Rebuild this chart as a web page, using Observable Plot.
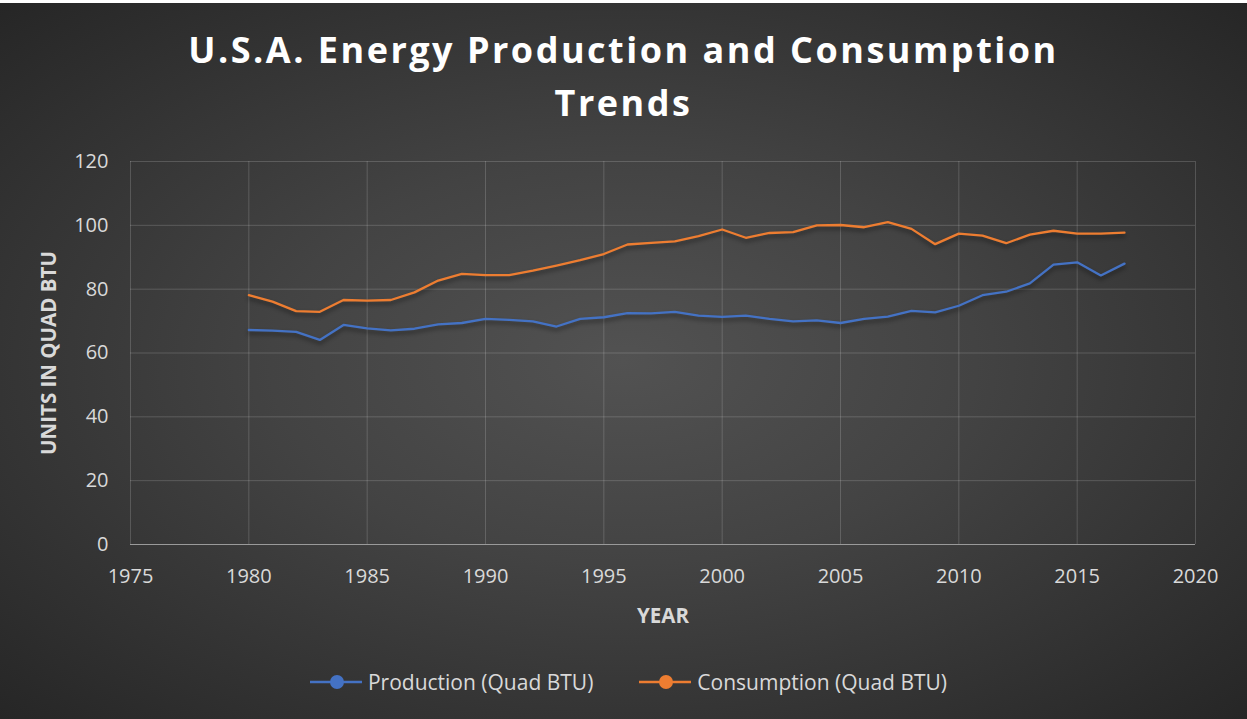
<!DOCTYPE html>
<html>
<head>
<meta charset="utf-8">
<script src="https://cdn.jsdelivr.net/npm/d3@7"></script>
<script src="https://cdn.jsdelivr.net/npm/@observablehq/plot@0.6"></script>
<style>
  html, body { margin: 0; padding: 0; background: #2a2a2a; }
  #frame {
    position: relative; width: 1247px; height: 719px; overflow: hidden; box-sizing: border-box;
    border-top: 3px solid #ffffff;
    background: radial-gradient(ellipse at 50% 50%, #525252 0%, #434343 40%, #262626 100%);
    font-family: "Open Sans", sans-serif;
  }
  #title {
    position: absolute; left: 0; top: 20px; width: 1247px; text-align: center;
    color: #ffffff; font-weight: 700; font-size: 36px; line-height: 53px; letter-spacing: 2.5px;
  }
  #chart { position: absolute; left: 0; top: 134px; }
  #chart svg g[aria-label="x-axis label"] text,
  #chart svg g[aria-label="y-axis label"] text { font-weight: 700; font-size: 20.5px; }
  #chart svg g[aria-label="line"] { filter: drop-shadow(0px 3px 2px rgba(0,0,0,0.45)); }
  #legend {
    position: absolute; left: 0; top: 664px; width: 1247px; height: 30px;
    display: flex; justify-content: center; align-items: center; gap: 46px;
    color: #d9d9d9; font-size: 21px; padding-left: 10px; box-sizing: border-box;
  }
  .item { display: flex; align-items: center; gap: 6px; }
</style>
</head>
<body>
<div id="frame">
  <div id="title">U.S.A. Energy Production and Consumption<br>Trends</div>
  <div id="chart"></div>
  <div id="legend"></div>
</div>
<script>
const years = [1980,1981,1982,1983,1984,1985,1986,1987,1988,1989,1990,1991,1992,1993,1994,1995,1996,1997,1998,1999,2000,2001,2002,2003,2004,2005,2006,2007,2008,2009,2010,2011,2012,2013,2014,2015,2016,2017];
const production = [67.2,67.0,66.6,64.1,68.8,67.7,67.1,67.6,69.0,69.4,70.7,70.4,69.9,68.3,70.7,71.2,72.5,72.4,72.9,71.7,71.3,71.7,70.7,69.9,70.2,69.4,70.7,71.4,73.2,72.7,74.8,78.1,79.2,81.8,87.7,88.4,84.3,88.0];
const consumption = [78.1,76.1,73.1,72.9,76.6,76.4,76.6,79.0,82.7,84.8,84.4,84.4,85.8,87.4,89.1,91.0,94.0,94.5,95.0,96.6,98.7,96.1,97.6,97.9,100.0,100.1,99.4,101.0,98.9,94.1,97.4,96.8,94.4,97.1,98.3,97.4,97.4,97.7];
const seriesNames = ["Production (Quad BTU)", "Consumption (Quad BTU)"];
const seriesColors = ["#4472C4", "#ED7D31"];
const xTicks = [1975,1980,1985,1990,1995,2000,2005,2010,2015,2020];
const yTicks = [0,20,40,60,80,100,120];
const xLabel = "YEAR";
const yLabel = "UNITS IN QUAD BTU";

const data = years.flatMap((yr, i) => [
  {year: yr, value: production[i], series: seriesNames[0]},
  {year: yr, value: consumption[i], series: seriesNames[1]}
]);

const chart = Plot.plot({
  width: 1247,
  height: 500,
  marginTop: 24,
  marginBottom: 93,
  marginLeft: 130,
  marginRight: 52,
  style: {background: "transparent", color: "#d9d9d9", fontFamily: "Open Sans, sans-serif", fontSize: "20px", overflow: "visible"},
  x: {domain: [1975, 2020]},
  y: {domain: [0, 120]},
  color: {domain: seriesNames, range: seriesColors},
  marks: [
    Plot.gridX(xTicks, {stroke: "#ffffff", strokeOpacity: 0.17, strokeWidth: 1}),
    Plot.gridY(yTicks, {stroke: "#ffffff", strokeOpacity: 0.17, strokeWidth: 1}),
    Plot.ruleY([0], {stroke: "#9a9a9a", strokeWidth: 1.2}),
    Plot.axisX(xTicks, {tickSize: 0, tickPadding: 24, tickFormat: d => String(d), label: xLabel, labelArrow: "none", labelAnchor: "center", labelOffset: 78, fill: "#d9d9d9"}),
    Plot.axisY(yTicks, {tickSize: 0, tickPadding: 22, label: yLabel, labelArrow: "none", labelAnchor: "center", labelOffset: 89, fill: "#d9d9d9"}),
    Plot.line(data, {x: "year", y: "value", stroke: "series", strokeWidth: 2.3})
  ]
});
document.getElementById("chart").appendChild(chart);

const legend = document.getElementById("legend");
seriesNames.forEach((name, i) => {
  const item = document.createElement("div");
  item.className = "item";
  item.innerHTML = `<svg width="52" height="16"><line x1="0" y1="8" x2="52" y2="8" stroke="${seriesColors[i]}" stroke-width="2.4"/><circle cx="27" cy="8" r="7" fill="${seriesColors[i]}"/></svg><span>${name}</span>`;
  legend.appendChild(item);
});
</script>
</body>
</html>
